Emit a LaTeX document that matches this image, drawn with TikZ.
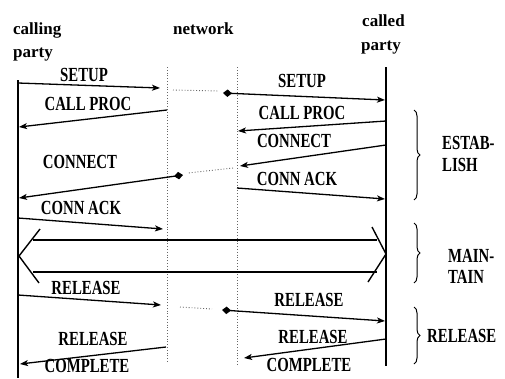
\documentclass[tikz,border=0pt]{standalone}
\usepackage{fontspec}
\setmainfont{Liberation Serif}
\newfontfamily\labfont[FakeStretch=0.74]{Liberation Serif}
\usetikzlibrary{arrows.meta,decorations.pathreplacing}
\begin{document}
\begin{tikzpicture}[x=1pt,y=-1pt,
  lifeline/.style={line width=1.4pt},
  netline/.style={line width=0.8pt, dotted, black!60},
  msg/.style={line width=1.3pt,-{Stealth[length=8pt,width=6pt,inset=2pt]}},
  msgd/.style={line width=1.3pt,{Diamond[length=9pt,width=7.5pt]}-{Stealth[length=8pt,width=6pt,inset=2pt]}},
  hop/.style={line width=0.9pt, dotted, black!60},
  lab/.style={font=\labfont\bfseries\fontsize{20}{21}\selectfont, inner sep=0pt},
  head/.style={font=\bfseries\fontsize{17}{18}\selectfont, inner sep=0pt, anchor=base west},
  brc/.style={decorate, decoration={brace, amplitude=6pt}, line width=1pt},
  dbl/.style={line width=1.4pt}
]
\useasboundingbox (0,0) rectangle (505,378);

% lifelines
\coordinate (cgT) at (18,80);   \coordinate (cgB) at (18,378);
\coordinate (cdT) at (386,67);  \coordinate (cdB) at (386,366);
\coordinate (nlT) at (167,67);  \coordinate (nlB) at (167,362);
\coordinate (nrT) at (237,67);  \coordinate (nrB) at (237,364);
\draw[lifeline] (cgT) -- (cgB);
\draw[lifeline] (cdT) -- (cdB);
\draw[netline] (nlT) -- (nlB);
\draw[netline] (nrT) -- (nrB);

% headers
\node[head] (hcg1) at (13,34) {calling};
\node[head] (hcg2) at (13,57) {party};
\node[head] (hnet) at (173,34) {network};
\node[head] (hcd1) at (362,26) {called};
\node[head] (hcd2) at (361,50) {party};

% SETUP
\coordinate (s1) at (18,83);   \coordinate (s2) at (160,88);
\coordinate (s3) at (173,90);  \coordinate (s4) at (219,91);
\coordinate (s5) at (223,93);  \coordinate (s6) at (385,100);
\draw[msg] (s1) -- (s2);
\draw[hop] (s3) -- (s4);
\draw[msgd] (s5) -- (s6);
\node[lab] (lsetupL) at (84,75) {SETUP};
\node[lab] (lsetupR) at (302,81) {SETUP};

% CALL PROC
\coordinate (c1) at (167,110); \coordinate (c2) at (19,127);
\coordinate (c3) at (386,121); \coordinate (c4) at (238,131);
\draw[msg] (c1) -- (c2);
\draw[msg] (c3) -- (c4);
\node[lab] (lcpL) at (88,104) {CALL PROC};
\node[lab] (lcpR) at (302,113) {CALL PROC};

% CONNECT
\coordinate (k1) at (386,145); \coordinate (k2) at (240,166);
\coordinate (k3) at (233,168); \coordinate (k4) at (188,173);
\coordinate (k5) at (183,175); \coordinate (k6) at (19,198);
\draw[msg] (k1) -- (k2);
\draw[hop] (k3) -- (k4);
\draw[msgd] (k5) -- (k6);
\node[lab] (lconL) at (80,162) {CONNECT};
\node[lab] (lconR) at (294,141) {CONNECT};

% CONN ACK
\coordinate (a1) at (237,188); \coordinate (a2) at (385,199);
\coordinate (a3) at (18,218);  \coordinate (a4) at (163,229);
\draw[msg] (a1) -- (a2);
\draw[msg] (a3) -- (a4);
\node[lab] (lackR) at (297,179) {CONN ACK};
\node[lab] (lackL) at (81,208) {CONN ACK};

% maintain double arrow
\coordinate (d1) at (33,240);  \coordinate (d2) at (377,240);
\coordinate (d3) at (33,272);  \coordinate (d4) at (377,272);
\coordinate (dl1) at (40,229); \coordinate (dl2) at (19,256); \coordinate (dl3) at (39,283);
\coordinate (dr1) at (372,227); \coordinate (dr2) at (386,254); \coordinate (dr3) at (368,282);
\draw[dbl] (d1) -- (d2);
\draw[dbl] (d3) -- (d4);
\draw[dbl] (dl1) -- (dl2) -- (dl3);
\draw[dbl] (dr1) -- (dr2) -- (dr3);

% RELEASE
\coordinate (r1) at (18,295);  \coordinate (r2) at (161,305);
\coordinate (r3) at (180,307); \coordinate (r4) at (212,309);
\coordinate (r5) at (222,310); \coordinate (r6) at (385,321);
\draw[msg] (r1) -- (r2);
\draw[hop] (r3) -- (r4);
\draw[msgd] (r5) -- (r6);
\node[lab] (lrelL) at (86,288) {RELEASE};
\node[lab] (lrelR) at (309,300) {RELEASE};

% RELEASE COMPLETE
\coordinate (q1) at (386,339); \coordinate (q2) at (244,358);
\coordinate (q3) at (166,347); \coordinate (q4) at (20,364);
\draw[msg] (q1) -- (q2);
\draw[msg] (q3) -- (q4);
\node[lab] (lrcR1) at (313,337) {RELEASE};
\node[lab] (lrcR2) at (309,365) {COMPLETE};
\node[lab] (lrcL1) at (93,339) {RELEASE};
\node[lab] (lrcL2) at (87,366) {COMPLETE};

% braces and phase labels
\coordinate (b1t) at (414,110); \coordinate (b1b) at (414,200);
\coordinate (b2t) at (414,223); \coordinate (b2b) at (414,283);
\coordinate (b3t) at (414,307); \coordinate (b3b) at (414,364);
\draw[brc] (b1t) -- (b1b);
\draw[brc] (b2t) -- (b2b);
\draw[brc] (b3t) -- (b3b);
\node[lab, anchor=west] (pe1) at (442,143) {ESTAB-};
\node[lab, anchor=west] (pe2) at (442,165) {LISH};
\node[lab, anchor=west] (pm1) at (448,256) {MAIN-};
\node[lab, anchor=west] (pm2) at (448,277) {TAIN};
\node[lab, anchor=west] (pr) at (427,336) {RELEASE};
\end{tikzpicture}
\end{document}
